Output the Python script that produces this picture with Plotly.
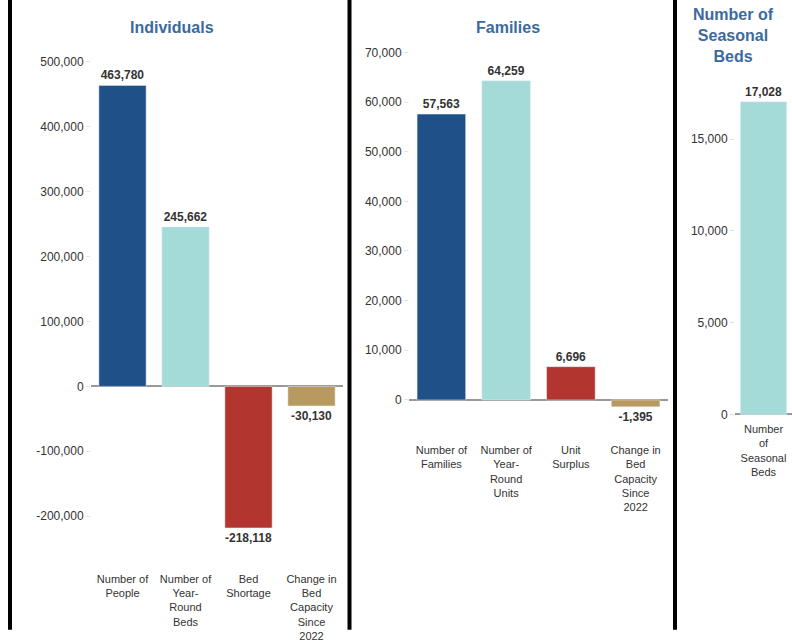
import plotly.graph_objects as go

W, H = 792, 643

# ---------------- data ----------------
ind_categories = ["Number of<br>People", "Number of<br>Year-<br>Round<br>Beds",
                  "Bed<br>Shortage", "Change in<br>Bed<br>Capacity<br>Since<br>2022"]
ind_values = [463780, 245662, -218118, -30130]
ind_ticks = [-200000, -100000, 0, 100000, 200000, 300000, 400000, 500000]

fam_categories = ["Number of<br>Families", "Number of<br>Year-<br>Round<br>Units",
                  "Unit<br>Surplus", "Change in<br>Bed<br>Capacity<br>Since<br>2022"]
fam_values = [57563, 64259, 6696, -1395]
fam_ticks = [0, 10000, 20000, 30000, 40000, 50000, 60000, 70000]

sea_categories = ["Number<br>of<br>Seasonal<br>Beds"]
sea_values = [17028]
sea_ticks = [0, 5000, 10000, 15000]

colors4 = ["#1f5188", "#a4dad7", "#b23530", "#b89a60"]
teal = "#a4dad7"
title_color = "#3b6aa0"
FONT = "Liberation Sans, Arial, sans-serif"

# observed capture mapping (render_y ~= OFF + SCALE * design_y)
OFF, SCALE = 7.2, 0.986


def px_x(p):
    return p / W


def px_y(p):
    d = (p - OFF) / SCALE
    return 1 - d / H


def fmt(v):
    return f"{v:,}"


fig = go.Figure()

fig.add_trace(go.Bar(x=ind_categories, y=ind_values, marker_color=colors4, width=0.75,
                     text=[f"<b>{fmt(v)}</b>" for v in ind_values], textposition="outside",
                     textfont=dict(size=12, color="#333333", family=FONT), cliponaxis=False,
                     xaxis="x", yaxis="y"))
fig.add_trace(go.Bar(x=fam_categories, y=fam_values, marker_color=colors4, width=0.75,
                     text=[f"<b>{fmt(v)}</b>" for v in fam_values], textposition="outside",
                     textfont=dict(size=12, color="#333333", family=FONT), cliponaxis=False,
                     xaxis="x2", yaxis="y2"))
fig.add_trace(go.Bar(x=sea_categories, y=sea_values, marker_color=teal, width=0.81,
                     text=[f"<b>{fmt(v)}</b>" for v in sea_values], textposition="outside",
                     textfont=dict(size=12, color="#333333", family=FONT), cliponaxis=False,
                     xaxis="x3", yaxis="y3"))

xcommon = dict(showgrid=False, showline=False, zeroline=False, ticks="",
               tickfont=dict(size=11, color="#333333", family=FONT), fixedrange=True)
ycommon = dict(showgrid=False, showline=False, zeroline=True, zerolinecolor="#999999",
               zerolinewidth=2, ticks="outside", ticklen=4, tickcolor="#e4e4e4",
               tickfont=dict(size=12, color="#333333", family=FONT), fixedrange=True)

fig.update_layout(
    width=W, height=H,
    margin=dict(l=0, r=0, t=0, b=0),
    paper_bgcolor="white", plot_bgcolor="white",
    showlegend=False,
    font=dict(family=FONT, color="#333333"),
    xaxis=dict(domain=[px_x(91), px_x(343)], anchor="y", **xcommon),
    yaxis=dict(domain=[px_y(570), px_y(62)], anchor="x", range=[-284000, 500000],
               tickvals=ind_ticks, ticktext=[fmt(t) for t in ind_ticks], **ycommon),
    xaxis2=dict(domain=[px_x(409), px_x(668)], anchor="y2", **xcommon),
    yaxis2=dict(domain=[px_y(441.5), px_y(52.5)], anchor="x2", range=[-8470, 70000],
                tickvals=fam_ticks, ticktext=[fmt(t) for t in fam_ticks], **ycommon),
    xaxis3=dict(domain=[px_x(735), 1.0], anchor="y3", **xcommon),
    yaxis3=dict(domain=[px_y(420.5), px_y(80)], anchor="x3", range=[-355, 18220],
                tickvals=sea_ticks, ticktext=[fmt(t) for t in sea_ticks], **ycommon),
)

# panel titles
titles = [("Individuals", 172, 28), ("Families", 508, 28),
          ("Number of<br>Seasonal<br>Beds", 733, 35.5)]
for txt, xp, yp in titles:
    fig.add_annotation(text=f"<b>{txt}</b>", x=px_x(xp), y=px_y(yp), xref="paper", yref="paper",
                       showarrow=False, xanchor="center", yanchor="middle",
                       font=dict(size=16, color=title_color, family=FONT))

# vertical separators
for xp in [10, 349.5, 675]:
    fig.add_shape(type="line", xref="paper", yref="paper",
                  x0=px_x(xp), x1=px_x(xp), y0=px_y(-2), y1=px_y(629),
                  line=dict(color="black", width=4))

post = (
    "document.documentElement.style.margin='0';"
    "document.documentElement.style.overflow='hidden';"
    "document.body.style.margin='0';document.body.style.overflow='hidden';"
    "var d=document.getElementById('{plot_id}');"
    "d.style.position='fixed';d.style.top='0px';d.style.left='0px';"
)
fig.write_html("out.html", config={"displayModeBar": False}, post_script=post)
